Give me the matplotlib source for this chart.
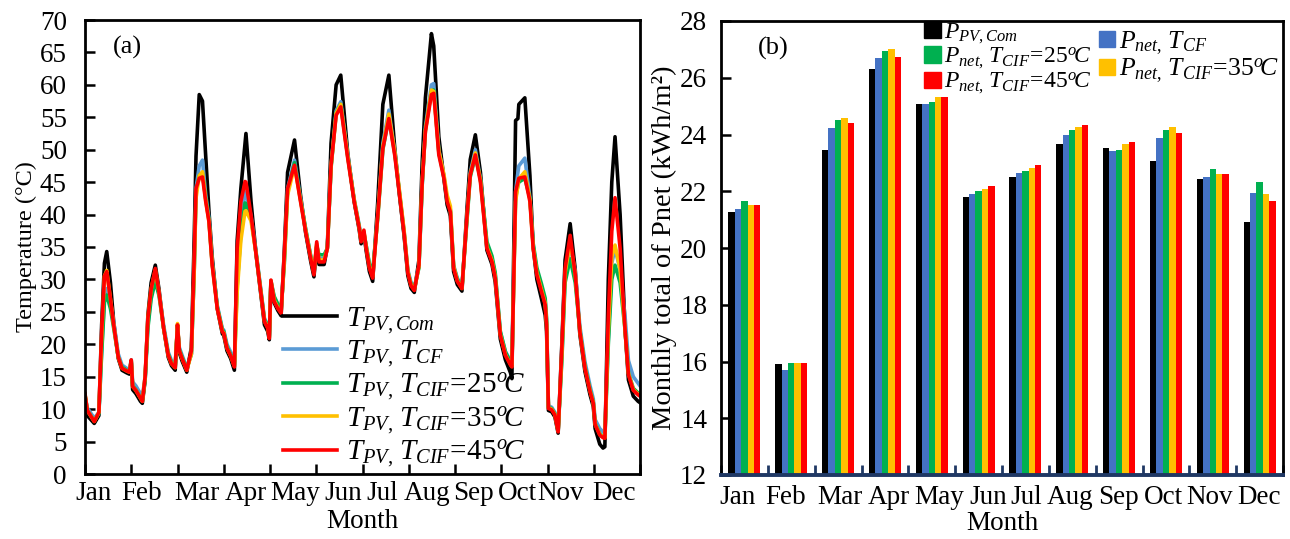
import numpy as np
import matplotlib
matplotlib.use('Agg')
import matplotlib.pyplot as plt
from matplotlib.patches import Patch

plt.rcParams['font.family'] = 'Liberation Serif'
plt.rcParams['mathtext.fontset'] = 'custom'
plt.rcParams['mathtext.rm'] = 'Liberation Serif'
plt.rcParams['mathtext.it'] = 'Liberation Serif:italic'

months = ['Jan', 'Feb', 'Mar', 'Apr', 'May', 'Jun', 'Jul', 'Aug', 'Sep', 'Oct', 'Nov', 'Dec']

# (a) PV temperature, month position on x
t_pos = [0.00, 0.05, 0.20, 0.30, 0.36, 0.42, 0.47, 0.55, 0.62, 0.72, 0.80, 0.90, 0.96,
         1.00, 1.03, 1.10, 1.20, 1.24, 1.30, 1.36, 1.43, 1.52, 1.60, 1.70, 1.80, 1.87, 1.95,
         2.00, 2.04, 2.10, 2.20, 2.30, 2.36, 2.40, 2.47, 2.54, 2.61, 2.68, 2.75, 2.86, 2.97,
         3.00, 3.07, 3.15, 3.23, 3.29, 3.37, 3.46, 3.48, 3.59, 3.70, 3.80, 3.88, 3.95, 3.985,
         4.02, 4.09, 4.17, 4.24, 4.31, 4.38, 4.53, 4.66, 4.77, 4.88, 4.95,
         5.01, 5.06, 5.17, 5.24, 5.32, 5.43, 5.53, 5.68, 5.82, 5.93, 5.97,
         6.03, 6.08, 6.15, 6.22, 6.33, 6.44, 6.57, 6.70, 6.80, 6.90, 6.98,
         7.05, 7.12, 7.22, 7.29, 7.36, 7.49, 7.54, 7.65, 7.76, 7.83, 7.90, 7.97,
         8.05, 8.15, 8.26, 8.33, 8.44, 8.55, 8.69, 8.80, 8.87, 8.98,
         9.09, 9.20, 9.23, 9.31, 9.36, 9.38, 9.51, 9.62, 9.69, 9.77, 9.87, 9.95, 9.98,
         10.02, 10.09, 10.16, 10.23, 10.31, 10.38, 10.49, 10.60, 10.70, 10.81, 10.92, 10.99,
         11.03, 11.13, 11.20, 11.24, 11.315, 11.39, 11.46, 11.57, 11.68, 11.75, 11.855, 11.96, 12.00]

t_com = [10.5, 9.0, 7.8, 9.0, 23, 32.5, 34.3, 29.5, 23.5, 17.8, 16.0, 15.6, 15.4,
         17.2, 13.0, 12.4, 11.2, 10.9, 14.5, 24.5, 29.5, 32.2, 28.5, 22.5, 18.0, 16.7, 16.0,
         23.0, 18.7, 17.4, 15.7, 19.5, 36, 49, 58.5, 57.5, 49, 40.5, 33.5, 25.5, 21.6,
         21.4, 19.0, 17.8, 16.0, 36, 44, 51, 52.5, 42, 33.8, 27.8, 23.0, 22.0, 20.7,
         29.5, 26.4, 25.2, 24.4, 34.5, 46.5, 51.5, 43, 37.2, 32.8, 30.4,
         35.0, 32.3, 32.3, 35.0, 51, 60, 61.5, 49.5, 42, 37.6, 35.5,
         37.0, 34.4, 31.2, 29.7, 42, 57, 61.5, 50, 43, 36.7, 30.6,
         28.6, 28.0, 33, 48, 58, 67.9, 66, 52, 45.5, 41.5, 39.8, 31.2,
         29.2, 28.2, 41, 48.5, 52.3, 46.5, 34.5, 32.3, 29.6, 20.8,
         17.6, 15.6, 14.7, 54.5, 54.8, 57.0, 58.0, 46, 35.0, 30.0, 27.0, 24.5, 22.0,
         9.8, 9.6, 8.8, 6.3, 20, 33, 38.6, 31.5, 21.5, 15.8, 12.2, 10.4,
         7.0, 4.6, 4.0, 4.2, 30, 45, 52, 40, 22, 14.5, 12.0, 11.2, 11.0]

t_cf = [12.0, 10.2, 8.6, 9.5, 19, 27, 28.6, 26.5, 23.5, 18.5, 16.8, 16.3, 16.1,
        17.6, 14.2, 13.6, 12.4, 11.9, 15, 23, 27.5, 31.0, 28, 23, 18.8, 17.5, 16.9,
        22.5, 19.5, 18.3, 16.4, 18.5, 31, 44, 47.5, 48.4, 43, 39.5, 32.7, 26.0, 22.4,
        22.2, 20.0, 18.8, 17.2, 30, 39, 43.5, 43.4, 39.8, 34.2, 28.6, 24.0, 23.0, 21.4,
        29.6, 27.2, 26.0, 25.3, 33, 44, 48.4, 42.5, 37.8, 33.6, 31.2,
        35.0, 33.2, 33.2, 34.8, 47.5, 56.0, 57.4, 49.2, 42.4, 38.3, 36.2,
        37.0, 35.2, 32.2, 30.8, 40, 51, 56.1, 49.5, 43.4, 37.4, 31.5,
        29.5, 28.8, 32, 44.5, 53.5, 60.0, 60.2, 50, 46, 42.4, 40.8, 32.2,
        30.2, 29.0, 39.5, 46.5, 50.0, 45.5, 35.3, 33.2, 30.7, 21.9,
        18.9, 17.4, 17.0, 43.5, 46.5, 47.5, 48.7, 42.6, 35.3, 31.2, 28.6, 26.6, 23.5,
        10.5, 10.3, 9.5, 6.9, 18, 30.5, 35.3, 31.2, 22.8, 17.3, 13.6, 11.6,
        8.4, 7.0, 6.5, 6.4, 21, 32.5, 34.8, 31.5, 24.0, 17.5, 15.0, 14.0, 13.6]

t_cif25 = [12.2, 9.8, 8.2, 9.3, 18.5, 26.5, 27.6, 25.5, 22.5, 18, 16.5, 16.0, 15.8,
           17.4, 13.6, 13.0, 11.8, 11.3, 14.5, 22.5, 27, 29.7, 27.5, 22.5, 18.5, 17.2, 16.6,
           22.5, 19.2, 18.0, 16.2, 18.5, 31, 43.5, 46, 46.4, 42.5, 39.2, 32.5, 25.8, 22.2,
           22.0, 19.6, 18.4, 16.8, 29, 37, 41.8, 41.7, 39.5, 34.0, 28.4, 23.8, 22.8, 21.2,
           29.8, 27.4, 26.2, 25.4, 32.5, 43.5, 48.0, 42.3, 37.8, 33.6, 31.2,
           35.2, 33.8, 33.8, 34.8, 47.2, 55.7, 57.0, 49.0, 42.2, 38.1, 36.0,
           37.2, 35.2, 32.4, 31.2, 39.5, 50, 55.0, 49.3, 43.2, 37.2, 31.2,
           29.3, 28.6, 31.8, 44.5, 53, 59.0, 59.2, 49.6, 45.8, 42.2, 40.6, 32.0,
           30.0, 28.8, 39.3, 45.8, 49.0, 45.5, 35.8, 33.6, 31.0, 22.0,
           18.8, 17.2, 16.9, 42.5, 44.5, 45.0, 45.6, 42.5, 35.6, 31.8, 29.3, 27.1, 24.0,
           10.3, 10.1, 9.3, 6.7, 17.5, 29.5, 33.2, 29.5, 22.2, 16.6, 13.0, 11.1,
           7.8, 6.2, 5.8, 5.7, 20, 30, 32.2, 29.5, 22.0, 15.6, 13.2, 12.5, 12.3]

t_cif35 = [12.3, 9.8, 8.1, 9.5, 21, 30.5, 31.4, 27, 23, 18, 16.3, 15.9, 15.7,
           17.5, 13.5, 12.9, 11.7, 11.2, 15, 24, 28.5, 31.5, 28, 22.5, 18.3, 17.0, 16.4,
           23.2, 19.0, 17.8, 16.0, 18.5, 31, 42.5, 46, 46.6, 42.2, 39, 32.4, 25.6, 22.0,
           21.8, 19.4, 18.2, 16.6, 28, 36, 40.5, 40.6, 39.0, 33.9, 28.2, 23.6, 22.6, 21.0,
           29.8, 26.8, 25.6, 24.9, 33, 43, 47.5, 42.2, 37.6, 33.4, 31.0,
           35.5, 33.0, 33.0, 34.8, 47.4, 55.6, 57.0, 49.0, 42.3, 38.0, 35.9,
           37.4, 35.0, 31.9, 30.4, 39.8, 50.5, 55.5, 49.5, 43.6, 37.5, 31.3,
           29.1, 28.4, 32, 45, 53, 59.2, 59.0, 49.8, 46.2, 43, 41.3, 32.0,
           29.8, 28.6, 39.7, 46.2, 49.5, 45.3, 35.0, 32.9, 30.4, 21.5,
           18.4, 16.9, 16.6, 42, 44.5, 45.5, 46.6, 42.3, 35.0, 31.0, 28.4, 26.3, 23.2,
           10.2, 10.0, 9.2, 6.6, 18.5, 31, 35.8, 30.8, 22.0, 16.4, 12.8, 11.0,
           7.7, 6.1, 5.7, 5.6, 22, 33.5, 35.3, 31.5, 22.0, 15.5, 13.0, 12.3, 12.1]

t_cif45 = [12.4, 9.8, 8.1, 9.5, 22, 30.5, 31.2, 27, 23, 18, 16.3, 15.9, 15.7,
           17.6, 13.5, 12.9, 11.7, 11.2, 15, 24, 28.5, 31.7, 28, 22.5, 18.3, 17.0, 16.4,
           23.0, 19.0, 17.8, 16.0, 19.0, 33, 44, 45.6, 45.8, 42, 38.9, 32.2, 25.5, 21.9,
           21.7, 19.4, 18.2, 16.5, 34.8, 42, 45.1, 45.0, 39.9, 33.8, 28.1, 23.5, 22.5, 20.9,
           29.9, 26.6, 25.5, 24.8, 34, 44, 47.6, 42, 37.4, 33.2, 30.7,
           35.8, 32.7, 32.7, 34.8, 47.6, 55.3, 56.6, 48.7, 42, 37.9, 35.8,
           37.6, 34.8, 31.7, 30.2, 39.9, 50.2, 54.8, 49, 43, 37, 31,
           29, 28.3, 32.2, 45, 52.8, 58.5, 58.7, 49.2, 45.6, 42, 40.4, 31.7,
           29.7, 28.6, 39.9, 46.1, 49.2, 45, 34.8, 32.7, 30.2, 21.4,
           18.3, 16.8, 16.5, 43.5, 45, 45.6, 45.8, 42, 34.8, 30.7, 28.1, 26.1, 23.0,
           10.1, 9.9, 9.1, 6.5, 19.4, 31.7, 36.8, 30.7, 21.9, 16.3, 12.7, 10.9,
           7.6, 6.0, 5.6, 5.5, 24.5, 37.4, 42.6, 34.8, 21.9, 15.3, 12.9, 12.2, 12.0]

# (b) monthly total of Pnet (kWh/m2)
p_com = [21.28, 15.9, 23.45, 26.32, 25.08, 21.8, 22.5, 23.65, 23.54, 23.05, 22.42, 20.91]
p_cf = [21.39, 15.7, 24.22, 26.7, 25.06, 21.92, 22.64, 23.99, 23.41, 23.89, 22.5, 21.93]
p_cif25 = [21.67, 15.94, 24.52, 26.96, 25.13, 22.0, 22.73, 24.15, 23.47, 24.15, 22.8, 22.32]
p_cif35 = [21.5, 15.94, 24.58, 27.01, 25.32, 22.08, 22.82, 24.25, 23.66, 24.26, 22.61, 21.92]
p_cif45 = [21.52, 15.94, 24.42, 26.73, 25.32, 22.2, 22.93, 24.32, 23.72, 24.04, 22.61, 21.64]

# month label positions as they sit in the source figure
lab_pos_a = [0.19, 1.23, 2.42, 3.48, 4.54, 5.58, 6.42, 7.39, 8.39, 9.36, 10.29, 11.44]
lab_pos_b = [-0.15, 0.87, 2.04, 3.09, 4.15, 5.2, 6.01, 6.95, 7.98, 8.94, 9.94, 10.99]

fig = plt.figure(figsize=(12.9, 5.39), dpi=100)
ax1 = fig.add_axes([85/1290, 1-474/539, 555/1290, 454/539])
ax2 = fig.add_axes([721/1290, 1-475/539, 562/1290, 454/539])

# ---- (a)
line_cols = ['#000000', '#5B9BD5', '#00B050', '#FFC000', '#FF0000']
series = [t_com, t_cf, t_cif25, t_cif35, t_cif45]
labels_a = [r'$T_{PV,Com}$', r'$T_{PV,}\,T_{CF}$', r'$T_{PV,}\,T_{CIF}\!=\!25^{o}\!C$',
            r'$T_{PV,}\,T_{CIF}\!=\!35^{o}\!C$', r'$T_{PV,}\,T_{CIF}\!=\!45^{o}\!C$']
for y, c, lab in zip(series, line_cols, labels_a):
    ax1.plot(t_pos, y, color=c, lw=2.6, label=lab, solid_joinstyle='round')

ax1.set_xlim(0, 12)
ax1.set_ylim(0, 70)
ax1.set_yticks(np.arange(0, 71, 5))
ax1.set_xticks(np.arange(0, 13))
ax1.set_xticklabels([])
ax1.set_xticks(lab_pos_a, minor=True)
ax1.set_xticklabels(months, minor=True)
ax1.tick_params(axis='x', which='minor', length=0, pad=5, labelsize=19.5)
ax1.tick_params(axis='x', which='major', direction='in', length=7, width=1.8)
ax1.tick_params(axis='y', direction='in', length=7, width=1.8, labelsize=19.5, pad=13)
for s in ax1.spines.values():
    s.set_linewidth(2)
ax1.set_xlabel('Month', fontsize=19.5, labelpad=2)
ax1.set_ylabel('Temperature (°C)', fontsize=17.5, labelpad=2)
ax1.text(0.05, 0.94, '(a)', transform=ax1.transAxes, fontsize=19, va='center')
ax1.legend(loc='lower left', bbox_to_anchor=(0.31, -0.05), frameon=False, fontsize=21,
           handlelength=1.85, handletextpad=0.3, labelspacing=0.08)

# ---- (b)
bar_cols = ['#000000', '#4472C4', '#00B050', '#FFC000', '#FF0000']
bars = [p_com, p_cf, p_cif25, p_cif35, p_cif45]
xs = np.arange(len(months))
w = 0.137
for i, (v, c) in enumerate(zip(bars, bar_cols)):
    ax2.bar(xs + (i - 2) * w, np.array(v) - 12, w, bottom=12, color=c)

ax2.set_xlim(-0.5, 11.5)
ax2.set_ylim(12, 28)
ax2.set_yticks(np.arange(12, 29, 2))
ax2.set_xticks(np.arange(-0.5, 12, 1))
ax2.set_xticklabels([])
ax2.set_xticks(lab_pos_b, minor=True)
ax2.set_xticklabels(months, minor=True)
ax2.tick_params(axis='x', which='minor', length=0, pad=7, labelsize=19.5)
ax2.tick_params(axis='x', which='major', direction='in', length=7, width=2, color='#1F3864')
ax2.tick_params(axis='y', direction='in', length=7, width=1.8, labelsize=19.5, pad=10)
for s in ax2.spines.values():
    s.set_linewidth(2)
ax2.spines['bottom'].set_color('#1F3864')
ax2.spines['bottom'].set_linewidth(2.8)
ax2.set_xlabel('Month', fontsize=19.5, labelpad=1)
ax2.set_ylabel('Monthly total of Pnet (kWh/m²)', fontsize=20.5, labelpad=2)
ax2.text(0.065, 0.94, '(b)', transform=ax2.transAxes, fontsize=19, va='center')

h1 = [Patch(color=bar_cols[0]), Patch(color=bar_cols[2]), Patch(color=bar_cols[4])]
l1 = [r'$P_{PV,Com}$', r'$P_{net,}\,T_{CIF}\!=\!25^{o}\!C$', r'$P_{net,}\,T_{CIF}\!=\!45^{o}\!C$']
leg1 = ax2.legend(h1, l1, loc='upper left', bbox_to_anchor=(0.345, 1.02), frameon=False,
                  fontsize=17, handlelength=0.7, handleheight=0.7, handletextpad=0.15,
                  labelspacing=0.0, borderaxespad=0)
ax2.add_artist(leg1)
h2 = [Patch(color=bar_cols[1]), Patch(color=bar_cols[3])]
l2 = [r'$P_{net,}\,T_{CF}$', r'$P_{net,}\,T_{CIF}\!=\!35^{o}\!C$']
ax2.legend(h2, l2, loc='upper left', bbox_to_anchor=(0.655, 1.005), frameon=False,
           fontsize=18.5, handlelength=0.6, handleheight=0.6, handletextpad=0.15,
           labelspacing=0.0, borderaxespad=0)

fig.savefig('out.png', dpi=100)
